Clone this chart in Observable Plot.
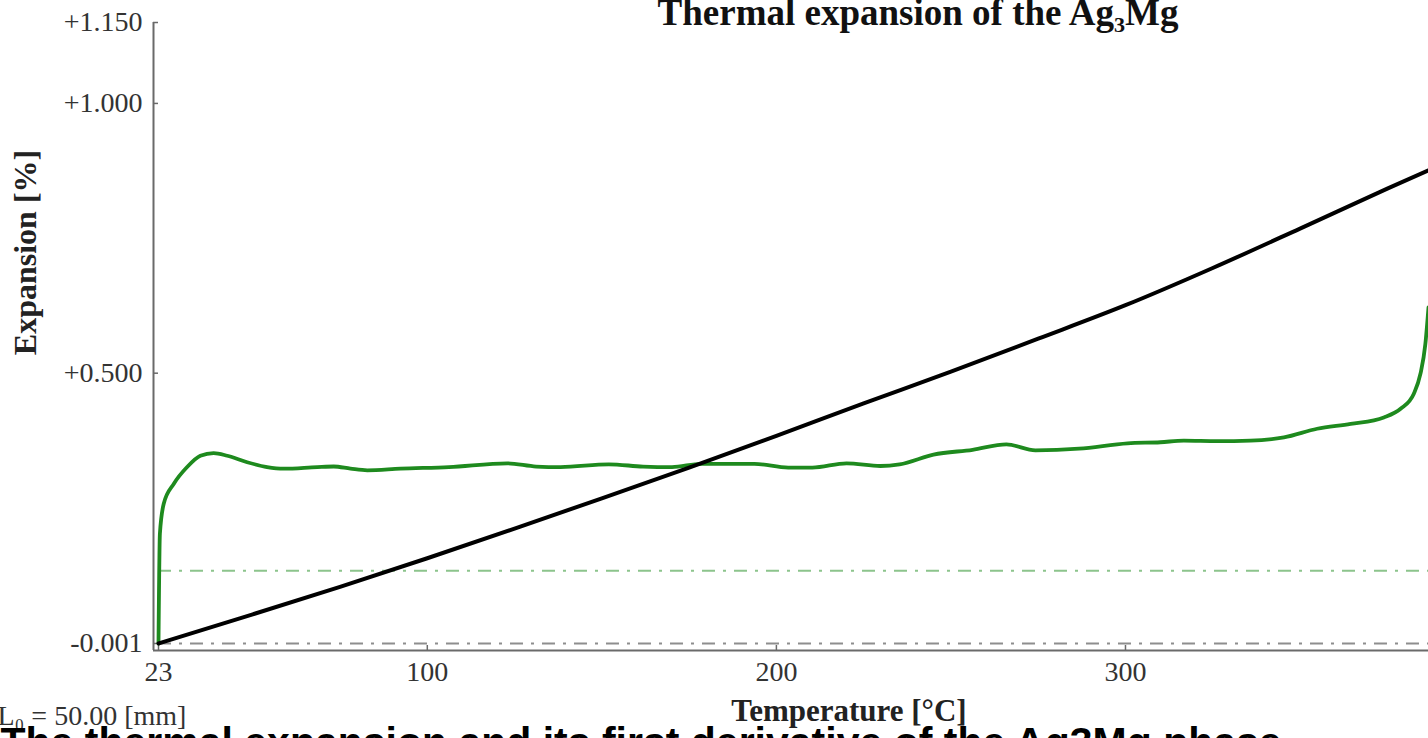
<!DOCTYPE html>
<html><head><meta charset="utf-8">
<script src="https://cdn.jsdelivr.net/npm/d3@7"></script>
<script src="https://cdn.jsdelivr.net/npm/@observablehq/plot@0.6"></script>
<style>html,body{margin:0;padding:0;background:#fff;overflow:hidden}</style>
</head><body><div id="chart"></div>
<script>
// Expansion curve (black)
const blackT = [23, 50, 75, 100, 125, 150, 175, 200, 225, 250, 275, 300, 325, 350, 375, 386.8];
const blackV = [-0.001, 0.053, 0.104, 0.157, 0.212, 0.268, 0.325, 0.384, 0.444, 0.503, 0.564, 0.626, 0.695, 0.768, 0.842, 0.876];
// Derivative curve (green)
const greenT = [23, 23.4, 24.5, 27.4, 31.2, 35.0, 38.8, 42.7, 48.4, 54.1, 58.9, 68.5, 73.2, 78.0, 82.8, 92.3, 106.2, 122.9, 131.2, 138.2, 152.0, 161.8, 170.1, 178.4, 193.7, 203.4, 210.3, 220.1, 229.8, 235.3, 245.0, 256.2, 265.9, 274.2, 286.7, 300.6, 310.0, 316.7, 326.3, 335.8, 345.4, 354.9, 364.5, 374.0, 378.8, 382.6, 384.5, 385.9, 386.8];
const greenV = [-0.001, 0.202, 0.258, 0.295, 0.326, 0.347, 0.352, 0.347, 0.335, 0.326, 0.323, 0.326, 0.327, 0.323, 0.320, 0.323, 0.326, 0.333, 0.327, 0.326, 0.331, 0.327, 0.326, 0.332, 0.332, 0.325, 0.325, 0.333, 0.328, 0.331, 0.349, 0.358, 0.368, 0.357, 0.360, 0.370, 0.372, 0.375, 0.374, 0.375, 0.381, 0.397, 0.406, 0.418, 0.434, 0.462, 0.499, 0.554, 0.622];
// Reference (dash-dot) levels
const baseLevel = [-0.001];
const derivLevel = [0.134];
// Axes
const xTicks = [23, 100, 200, 300];
const yTicks = [-0.001, 0.5, 1.0, 1.15];
const xDomain = [21.57, 386.8];
const yDomain = [-0.014, 1.15];
// Texts
const titleText = ["Thermal expansion of the Ag\u2083Mg"];
const yLabel = ["Expansion [%]"];
const xLabel = ["Temperature [\u00B0C]"];
const lengthNote = ["L\u2080 = 50.00 [mm]"];
const caption = ["The thermal expansion and its first derivative of the Ag3Mg phase"];

const black = blackT.map((t, i) => ({T: t, V: blackV[i]}));
const green = greenT.map((t, i) => ({T: t, V: greenV[i]}));

const fmtY = d => (d > 0 ? "+" : "") + d.toFixed(3);
const serif = '"Liberation Serif", "Times New Roman", serif';
const W = 1428, H = 738, ML = 153, MR = 0, MT = 22, MB = 88;
const tickLen = 5;

const chart = Plot.plot({
  width: W, height: H,
  marginLeft: ML, marginRight: MR, marginTop: MT, marginBottom: MB,
  style: {fontFamily: serif, fontSize: "28px", color: "#333", background: "#fff"},
  x: {domain: xDomain},
  y: {domain: yDomain},
  marks: [
    Plot.ruleY(baseLevel, {x1: greenT[0], x2: greenT[greenT.length - 1], stroke: "#8e8e8e", strokeWidth: 2, strokeDasharray: "13,8,3,8"}),
    Plot.ruleY(derivLevel, {x1: greenT[0], x2: greenT[greenT.length - 1], stroke: "#8cc48c", strokeWidth: 2, strokeDasharray: "13,8,3,8"}),
    // axis lines
    Plot.ruleX([xDomain[0]], {stroke: "#6a6a6a", strokeWidth: 2}),
    Plot.ruleY([yDomain[0]], {stroke: "#6a6a6a", strokeWidth: 2}),
    // inward tick marks
    Plot.tickY(yTicks, {y: d => d, stroke: "#6a6a6a", strokeWidth: 1.5, insetRight: W - ML - MR - tickLen}),
    Plot.tickX(xTicks, {x: d => d, stroke: "#6a6a6a", strokeWidth: 1.5, insetTop: H - MT - MB - tickLen}),
    Plot.line(green, {x: "T", y: "V", stroke: "#1e8a1e", strokeWidth: 3.8, curve: "monotone-x"}),
    Plot.line(black, {x: "T", y: "V", stroke: "#000", strokeWidth: 4, curve: "monotone-x"}),
    Plot.axisY(yTicks, {tickSize: 0, tickPadding: 11, tickFormat: fmtY, fill: "#333", label: null}),
    Plot.axisX(xTicks, {tickSize: 0, tickPadding: 11, tickFormat: d => String(d), fill: "#333", label: null}),
    Plot.text(titleText, {frameAnchor: "top", textAnchor: "middle", lineAnchor: "middle", dx: 127, dy: -9, fontSize: 37, fontWeight: "bold", fill: "#111"}),
    Plot.text(yLabel, {frameAnchor: "left", textAnchor: "middle", lineAnchor: "middle", dx: -128, dy: -84, rotate: -90, fontSize: 32, fontWeight: "bold", fill: "#222"}),
    Plot.text(xLabel, {frameAnchor: "bottom", textAnchor: "middle", lineAnchor: "middle", dx: 58, dy: 61, fontSize: 31, fontWeight: "bold", fill: "#222"}),
    Plot.text(lengthNote, {frameAnchor: "bottom-left", textAnchor: "start", lineAnchor: "middle", dx: -156, dy: 66, fontSize: 28, fill: "#333"}),
    Plot.text(caption, {frameAnchor: "bottom-left", textAnchor: "start", lineAnchor: "middle", dx: -153, dy: 92, fontSize: 41, fontWeight: "bold", fontFamily: '"Liberation Sans", Arial, sans-serif', fill: "#000"})
  ]
});
document.getElementById("chart").append(chart);
</script>
</body></html>
